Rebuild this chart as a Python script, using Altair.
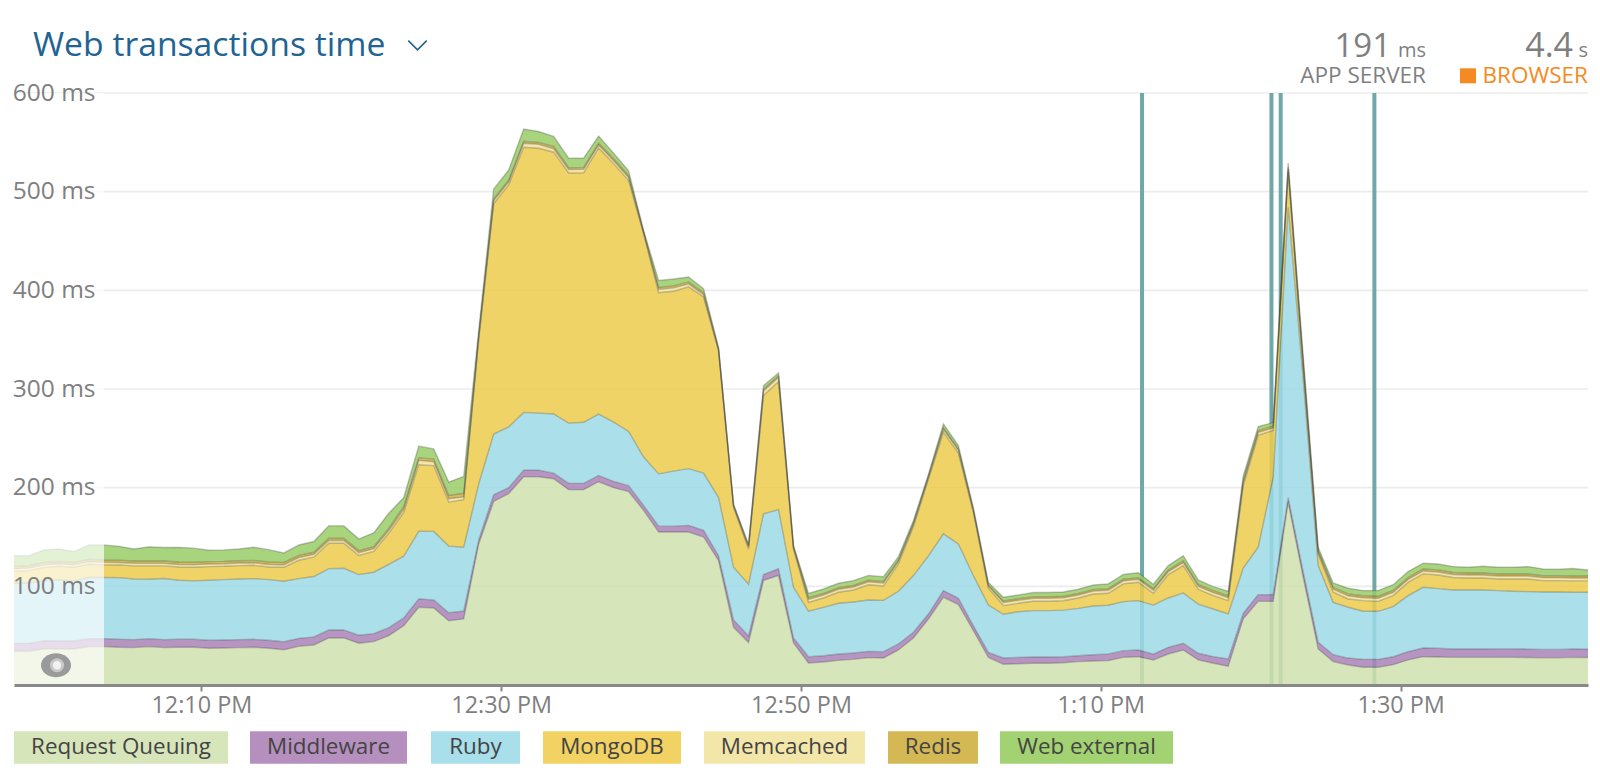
import altair as alt
import pandas as pd

FONT = "Open Sans"
series_names = ["Request Queuing", "Middleware", "Ruby", "MongoDB", "Memcached", "Redis", "Web external"]
fill_colors = ["#d0e2ae", "#aa82b7", "#9cdae7", "#edcb4b", "#f0e29c", "#cfb03f", "#98cd66"]
chip_colors = ["#d6e5ba", "#b590bf", "#a9dfeb", "#f2d262", "#f3e6a9", "#d4b853", "#a2d272"]

queuing = [34.1,34.1,36.8,36.8,36.5,38.9,38.9,38.2,37.9,38.9,37.9,38.2,38.2,37.2,37.5,37.9,38.2,37.2,35.8,39.2,40.6,47.7,47.7,42.3,44,50,
           60,78.8,78.1,65.2,67,143,186,194,211,211,209,198,198,206,200,196,177,155,155,155,150,126,58.5,43,106,111,42.6,
           22.3,23.3,25,26,27.7,27.4,35.5,47.7,66.9,88.9,81.5,55,28,21,21.6,22,22,22.6,23.7,24.3,24.7,28,28.7,25.3,31.4,
           35.5,25.4,22,19,67,84.8,84.8,185,109,36.5,23.7,20.3,18,18,20.6,25.4,28.7,28.4,28,28,28,28,28,27.8,27.5,27.5,28,27.8]
middleware = [8.1,8.1,8.1,8.1,8.1,8.1,8.1,8.1,8.1,8.1,8.1,8.1,8.1,8.1,8.1,8.1,8.1,8.1,8.1,8.1,8.1,8.1,8.1,8.1,8.1,8.1,
              8,8.5,8,8,8,4,6.8,6,6.8,6.8,5.7,6.4,6.4,6.4,6.4,6,5,6,6,6.8,6.8,5,7.4,6.8,6,6.8,5,
              6.4,6.4,6.4,6.4,6.4,6.4,6.1,5.7,5,6.8,6.4,5,5,6.4,6.4,6.4,6.4,6,6,6.4,6.8,6.8,6.8,6,6.8,
              6.8,6.8,6.8,7.4,5.7,6.8,6.8,5,6,6.8,7,7,8,8,8,8.5,8.8,8.8,8.5,8.5,8.5,8.6,8.6,8.6,8.6,8.6,8.6,8.6]
ruby = [61.2,61.2,60.8,61.5,61.2,61.9,61.9,62.5,61.5,60.2,61.9,59.8,59.2,60.8,61.2,61.5,61.5,61.5,61.2,60.5,61.2,62.2,62.5,61.5,62.2,64.2,
        62.5,68.6,69.6,67.6,64.6,56.8,61.5,61.5,58.5,57.8,60,61,61.9,62.2,60,55,49,53,55.8,57.5,58,59,53.4,52.4,61.5,60,51.4,
        46,49,51.4,51.7,52,52,53.4,57.5,59,57.5,55,50.7,48,44.3,46.3,47,47,47.3,48,49.3,49.3,49.7,50,49.7,50,
        51,49.8,48.2,45.6,45.9,48,119,294,195,77.7,53.1,51.5,48.7,48.7,50.8,56.7,61.5,60.5,59.8,59.8,59.8,59.1,58.4,58.2,58.2,58.2,57.4,57.6]
mongodb = [11.8,12.5,13.5,13.9,13.5,13.5,12.8,12.8,13.2,13.5,12.8,13.5,13.9,13.9,13.5,13.5,13.5,12.8,14.2,18.6,19.6,25.7,25.4,19.3,21,31.4,
           44.5,67.4,66.6,44.6,48.3,146,233.5,245.4,268.7,268.4,265.3,253.5,252.8,269.7,262,254.2,226.4,183.5,182.2,184.2,178.4,148.7,60.7,35.5,120,129.5,38.9,
           9.1,9.5,11.2,12.2,15.5,14.5,27.7,49.7,77.7,103,92,64,17.2,8.8,8.5,9.5,9.5,9.5,10.5,12.2,12.2,18,18.6,12,23.7,
           27.7,15,13.6,13.5,83.4,113.4,47.4,36,12,11.8,10.2,8.4,10.8,10.1,11.2,13.4,13.6,13.8,12.7,12.2,12.2,11.8,12.5,12.9,11.5,11.5,11.5,11.5]
memcached = [2.6,2.6,2.6,2.6,2.6,2.6,2.6,2.6,2.6,2.6,2.6,2.6,2.6,2.6,2.6,2.6,2.6,2.6,2.6,2.8,2.8,2.8,2.8,2.8,2.8,2.8,
             3,4.4,4,3.4,2.7,2.5,3,3,4,4,3.5,3.5,3.5,3,3,3,1,3.5,3.5,3,2.5,1,1.2,2,4.5,4.5,1.2,
             3,3,3,3,3,3,2.5,2,1.8,3,3,1.8,2,3,3,3,3,3,3,3,3,3,3,3,3,
             3,3,3,3,3,3,2.5,3,3,2,3,3.2,3,3.2,3.2,3,3,3,3,3,3,3,3,3,3,3,3,3]
redis = [2.4,2.4,2.4,2.4,2.4,2.4,2.4,2.4,2.4,2.4,2.4,2.4,2.4,2.4,2.4,2.4,2.4,2.4,2.4,2.2,2.2,2.2,2.2,2.2,2.2,2.2,
         3,2.7,2.7,3.4,3.7,2,2,2,2,2,2.5,2,2,2,2,2,1,2,2,2,2,1,1,1.5,2,1.5,1,
         1.7,1.7,1.7,1.7,1.7,1.7,1.5,1.5,1.2,1.5,1.3,1.2,1.3,1.7,1.7,1.7,1.7,1.7,1.7,1.7,1.7,1.7,1.7,1.7,1.7,
         2,2,2,2,2,2,2,2,3,1.5,2,2,2,2,2,2,2,2.2,2,2,2,2,2,2,2,2,2,2]
web_external = [10.9,10.2,12.6,12.6,10.9,14.6,15.3,13.9,12.2,14.3,13.6,14.9,14.3,11.6,11.6,11.9,13.3,12.6,9.5,10.5,10.9,12.6,12.6,11.9,13.9,15.3,
                9,11.7,10.3,13.5,17,5.5,10,10,12.5,11,10,9.5,9.5,7,5.5,5,1.4,7,7,5,4,1.4,1.3,1.5,3.5,3,1.2,
                4.4,4.4,4.4,4.8,4.8,4.8,3.4,2.6,2,4,3.5,2,2.5,3.8,3.8,4.1,4.1,4.1,4.1,4.4,4.8,4.8,5.1,4.4,4.4,
                5,4.5,4.1,4.5,5,4,3.5,4,6,3.3,4.4,5.6,5.2,5.7,5.9,6,5.8,6,6,5.8,6.8,6.8,6.8,7.5,6.8,6.5,7.5,6]
all_series = [queuing, middleware, ruby, mongodb, memcached, redis, web_external]

times = pd.date_range("2020-01-01 11:57:30", periods=len(queuing), freq="1min")
rows = []
for rank, (name, vals) in enumerate(zip(series_names, all_series)):
    assert len(vals) == len(times), (name, len(vals))
    for t, v in zip(times, vals):
        rows.append({"time": t.strftime("%Y-%m-%dT%H:%M:%S"), "series": name, "rank": rank, "value": v})
df = pd.DataFrame(rows)

deployments = ["2020-01-01T13:12:45", "2020-01-01T13:21:23", "2020-01-01T13:22:00", "2020-01-01T13:28:15"]
y_ticks = [100, 200, 300, 400, 500, 600]
x_ticks = [(12, 10), (12, 30), (12, 50), (13, 10), (13, 30)]

W, H = 1574, 592
x_scale = alt.Scale(domain=["2020-01-01T11:57:30", "2020-01-01T13:42:30"])
y_scale = alt.Scale(domain=[0, 600], nice=False)
x_enc = alt.X("time:T", scale=x_scale, title=None, axis=alt.Axis(
    values=[alt.DateTime(year=2020, month=1, date=1, hours=h, minutes=m) for h, m in x_ticks],
    format="%-I:%M %p", grid=False, zindex=1, domainColor="#888888", domainWidth=3,
    tickColor="#888888", tickWidth=2, tickSize=6, labelPadding=3, labelFontSize=23.4,
    labelColor="#7f7f7f", labelFont=FONT, labelOverlap=False))

grid_layer = alt.Chart(pd.DataFrame({"tick": y_ticks})).mark_rule(
    color="#ececec", strokeWidth=1.7).encode(y=alt.Y("tick:Q", scale=y_scale))

rule_layer = alt.Chart(pd.DataFrame({"time": deployments})).mark_rule(
    color="#6fa8a8", strokeWidth=4).encode(x=alt.X("time:T", scale=x_scale))

stacked = alt.Chart(df).transform_stack(
    stack="value", as_=["y0", "y1"], groupby=["time"],
    sort=[alt.SortField("rank", order="ascending")])

area_layer = stacked.mark_area(opacity=0.85).encode(
    x=x_enc,
    y=alt.Y("y1:Q", scale=y_scale, title=None, axis=alt.Axis(
        values=y_ticks, labelExpr="datum.value + ' ms'", domain=False, ticks=False, tickSize=0,
        labelPadding=-81, grid=False, zindex=1,
        labelFontSize=24.5, labelColor="#7f7f7f", labelFont=FONT, labelOverlap=False)),
    y2="y0:Q",
    color=alt.Color("series:N", scale=alt.Scale(domain=series_names, range=fill_colors), legend=None),
)
line_layer = stacked.mark_line(color="#333333", opacity=0.28, strokeWidth=1.4).encode(
    x=alt.X("time:T", scale=x_scale),
    y=alt.Y("y1:Q", scale=y_scale),
    detail="series:N",
)

one = alt.Data(values=[{"a": 1}])
veil = alt.Chart(one).mark_rect(color="white", opacity=0.68).encode(
    x=alt.value(0), x2=alt.value(90), y=alt.value(0), y2=alt.value(H))


def label(text, x, y, size, color="#7f7f7f", align="left"):
    return alt.Chart(one).mark_text(text=text, font=FONT, fontSize=size, color=color, align=align,
                                    baseline="alphabetic").encode(x=alt.value(x - 14), y=alt.value(y - 92.7))


def dot(x, y, size, color, shape="circle"):
    return alt.Chart(one).mark_point(shape=shape, size=size, filled=True, color=color, opacity=1).encode(
        x=alt.value(x - 14), y=alt.value(y - 92.7))


ELLIPSE = "M-1,0A1,0.8 0 1,1 1,0A1,0.8 0 1,1 -1,0Z"
eye = [dot(56, 665, 900, "#9a9a9a", ELLIPSE), dot(57, 665, 200, "#c8c8c8"), dot(57, 665, 70, "#f2f2f2")]

chevron = alt.Chart(one).mark_point(shape="M-1,-0.5L0,0.5L1,-0.5", size=340, filled=False, color="#1f6492",
                                    strokeWidth=1.6, opacity=1).encode(x=alt.value(417.5 - 14), y=alt.value(45 - 92.7))

summary = [
    label("Web transactions time", 33, 56, 33.7, color="#1f6492"),
    label("191", 1391, 57, 33, align="right"), label("ms", 1426, 57, 20, align="right"),
    label("APP SERVER", 1426, 83, 22.5, align="right"),
    label("4.4", 1573, 57, 34, align="right"), label("s", 1588, 57, 20, align="right"),
    label("BROWSER", 1588, 83, 22.5, color="#f58a22", align="right"),
    alt.Chart(one).mark_rect(color="#f58a22").encode(x=alt.value(1460 - 14), x2=alt.value(1476 - 14),
                                                     y=alt.value(68 - 92.7), y2=alt.value(83 - 92.7)),
]

chip_edges = [(14, 228), (250, 407), (431, 520), (543, 681), (704, 865), (888, 978), (1000, 1173)]
legend = []
for name, col, (x0, x1) in zip(series_names, chip_colors, chip_edges):
    legend.append(alt.Chart(one).mark_rect(color=col).encode(
        x=alt.value(x0 - 14), x2=alt.value(x1 - 14), y=alt.value(731 - 92.7), y2=alt.value(763.5 - 92.7)))
    legend.append(alt.Chart(one).mark_text(text=name, font=FONT, fontSize=22.4, color="#444444", align="center",
                                           baseline="middle").encode(x=alt.value((x0 + x1) / 2 - 14),
                                                                     y=alt.value(747 - 92.7)))

chart = alt.layer(grid_layer, rule_layer, area_layer, line_layer, veil, *eye, chevron, *summary, *legend).properties(
    width=W, height=H,
    autosize=alt.AutoSizeParams(type="none"),
    padding={"left": 6, "top": 85, "right": 4, "bottom": 82},
).configure_view(stroke=None)

chart.save("out.html", embed_options={"renderer": "svg", "actions": False})
